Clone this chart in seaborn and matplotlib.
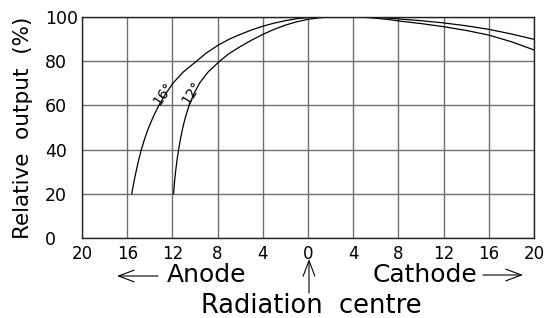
import numpy as np
import pandas as pd
import matplotlib
matplotlib.use("Agg")
import matplotlib.pyplot as plt
from matplotlib.patches import FancyArrowPatch
import seaborn as sns

# field position in degrees (negative = anode side) and relative output in %
x_16 = [-15.6, -15.42, -15.22, -15.0, -14.75, -14.45, -14.1, -13.68, -13.2, -12.62,
        -11.95, -11.05, -9.85, -9.0, -8.0, -7.0, -6.0, -5.0, -4.0, -3.0, -2.0, -1.0,
        0.0, 1.0, 2.0, 3.0, 4.0, 5.0, 6.0, 7.0, 8.0, 10.0, 12.0, 14.0, 16.0, 18.0, 20.0]
y_16 = [20, 25, 30, 35, 40, 45, 50, 55, 60, 65,
        70, 75, 80, 83.6, 87.0, 89.8, 92.0, 94.0, 95.7, 97.1, 98.2, 99.1,
        99.6, 99.9, 100, 100, 100, 99.9, 99.7, 99.4, 99.0, 98.2, 97.2, 95.9, 94.3, 92.2, 89.8]
x_12 = [-11.9, -11.82, -11.72, -11.6, -11.45, -11.28, -11.08, -10.83, -10.52, -10.12,
        -9.6, -8.85, -7.8, -7.0, -6.0, -5.0, -4.0, -3.0, -2.0, -1.0,
        0.0, 1.0, 2.0, 3.0, 4.0, 5.0, 6.0, 7.0, 8.0, 10.0, 12.0, 14.0, 16.0, 18.0, 20.0]
y_12 = [20, 25, 30, 35, 40, 45, 50, 55, 60, 65,
        70, 75, 80, 83.3, 86.5, 89.4, 92.0, 94.3, 96.2, 97.7,
        98.8, 99.5, 99.9, 100, 100, 99.7, 99.3, 98.8, 98.1, 96.9, 95.5, 93.8, 91.7, 88.7, 85.0]

x_ticks = [-20, -16, -12, -8, -4, 0, 4, 8, 12, 16, 20]
x_tick_labels = ["20", "16", "12", "8", "4", "0", "4", "8", "12", "16", "20"]
y_ticks = [0, 20, 40, 60, 80, 100]
y_tick_labels = ["0", "20", "40", "60", "80", "100"]

df = pd.concat([
    pd.DataFrame({"pos": x_16, "out": y_16, "angle": "16"}),
    pd.DataFrame({"pos": x_12, "out": y_12, "angle": "12"}),
])

sns.set_style("white")
plt.rcParams["font.family"] = ["DejaVu Sans"]
plt.rcParams["text.color"] = "black"

fig = plt.figure(figsize=(5.56, 3.18), dpi=100)
ax = fig.add_axes([0.1475, 0.2506, 0.8129, 0.6969])

sns.lineplot(data=df, x="pos", y="out", hue="angle", palette=["black", "black"],
             estimator=None, sort=False, linewidth=0.9, legend=False, ax=ax)

ax.set_xlim(-20, 20)
ax.set_ylim(0, 100)
ax.set_xticks(x_ticks)
ax.set_xticklabels(x_tick_labels)
ax.set_yticks(y_ticks)
ax.set_yticklabels(y_tick_labels, ha="left")
ax.grid(True, color="#6e6e6e", linewidth=1.0)
ax.tick_params(length=0, colors="black")
ax.tick_params(axis="x", labelsize=12, pad=4.5)
ax.tick_params(axis="y", labelsize=12.5, pad=26.5)
for s in ax.spines.values():
    s.set_color("#222222")
    s.set_linewidth(1.0)
ax.set_xlabel("")
ax.set_ylabel("")

ax.text(-12.85, 65.5, "16°", rotation=55, fontsize=10, ha="center", va="center")
ax.text(-10.3, 66.0, "12°", rotation=58, fontsize=10, ha="center", va="center")

# labels outside the axes, placed in figure pixels
def fx(px):
    return px / 556

def fy(py):
    return 1 - py / 318

fig.text(fx(23), fy(127.5), "Relative  output  (%)", rotation=90, fontsize=15.5,
         ha="center", va="center")
fig.text(fx(167), fy(282), "Anode", fontsize=18, ha="left", va="baseline")
fig.text(fx(477), fy(282), "Cathode", fontsize=18, ha="right", va="baseline")
fig.text(fx(311), fy(313), "Radiation  centre", fontsize=18.5, ha="center", va="baseline")

arrow = dict(arrowstyle="->,head_length=0.8,head_width=0.3", color="black",
             linewidth=0.8, mutation_scale=14, shrinkA=0, shrinkB=0,
             transform=fig.transFigure)
fig.add_artist(FancyArrowPatch((fx(158), fy(276)), (fx(117), fy(276)), **arrow))
fig.add_artist(FancyArrowPatch((fx(483), fy(275)), (fx(523), fy(275)), **arrow))
fig.add_artist(FancyArrowPatch((fx(309), fy(293)), (fx(309), fy(259)), **arrow))

fig.savefig("out.png", dpi=100)
